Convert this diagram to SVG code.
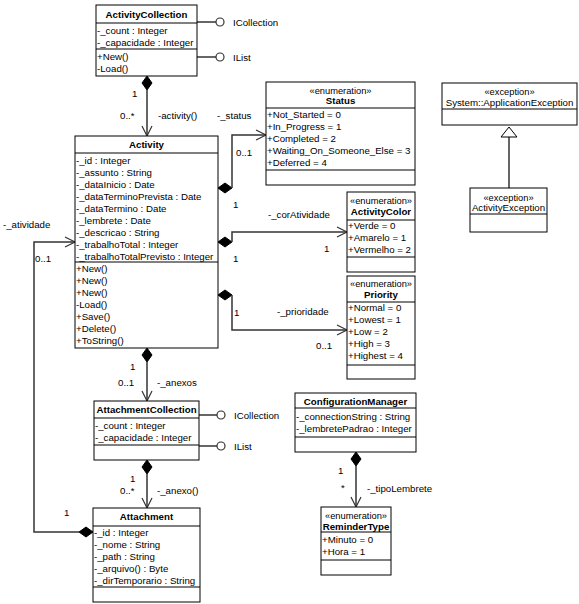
<svg xmlns="http://www.w3.org/2000/svg" width="579" height="604" viewBox="0 0 579 604">
<style>
text{font-family:"Liberation Sans",Arial,sans-serif;font-size:9.7px;fill:#000}
.t{font-weight:bold;text-anchor:middle}
.c{text-anchor:middle}
.s{font-size:9.3px;text-anchor:middle}
.box{fill:#fff;stroke:#000;stroke-width:1}
.sep{stroke:#000;stroke-width:1}
.ln{fill:none;stroke:#333;stroke-width:1.5}
.dia{fill:#000;stroke:#000;stroke-width:1}
.arr{fill:none;stroke:#333;stroke-width:1.2}
.lol{fill:#fff;stroke:#333;stroke-width:1.2}
</style>
<rect width="579" height="604" fill="#fff"/>

<g id="connectors">
  <!-- ActivityCollection -> Activity -->
  <polygon class="dia" points="147,76 152,83 147,90 142,83"/>
  <line class="ln" x1="147" y1="90" x2="147" y2="136"/>
  <polyline class="arr" points="142,126 147,136 152,126"/>
  <text x="132" y="97">1</text>
  <text x="120" y="119">0..*</text>
  <text x="158" y="119">-activity()</text>
  <!-- Activity -> Status -->
  <polygon class="dia" points="218,188 225,183 232,188 225,193"/>
  <polyline class="ln" points="232,188 232,135 266,135"/>
  <polyline class="arr" points="256,130 266,135 256,140"/>
  <text x="217" y="119">-_status</text>
  <text x="236" y="155.5">0..1</text>
  <text x="233" y="208">1</text>
  <!-- Activity -> ActivityColor -->
  <polygon class="dia" points="218,242 225,237 232,242 225,247"/>
  <polyline class="ln" points="232,242 232,232 347,232"/>
  <polyline class="arr" points="337,227 347,232 337,237"/>
  <text x="268" y="217.5">-_corAtividade</text>
  <text x="324" y="251.5">1</text>
  <text x="233" y="262">1</text>
  <!-- Activity -> Priority -->
  <polygon class="dia" points="218,295 225,290 232,295 225,300"/>
  <polyline class="ln" points="232,295 232,330 347,330"/>
  <polyline class="arr" points="337,325 347,330 337,335"/>
  <text x="234" y="315.5">1</text>
  <text x="277" y="314.5">-_prioridade</text>
  <text x="316" y="348.5">0..1</text>
  <!-- Activity -> AttachmentCollection -->
  <polygon class="dia" points="147,348 152,355 147,362 142,355"/>
  <line class="ln" x1="147" y1="362" x2="147" y2="401"/>
  <polyline class="arr" points="142,391 147,401 152,391"/>
  <text x="130" y="369.5">1</text>
  <text x="118" y="385.5">0..1</text>
  <text x="157" y="385.5">-_anexos</text>
  <!-- AttachmentCollection -> Attachment -->
  <polygon class="dia" points="147,460 152,467 147,474 142,467"/>
  <line class="ln" x1="147" y1="474" x2="147" y2="508"/>
  <polyline class="arr" points="142,498 147,508 152,498"/>
  <text x="130" y="481.5">1</text>
  <text x="120" y="494">0..*</text>
  <text x="157" y="494">-_anexo()</text>
  <!-- Attachment -> Activity -->
  <polygon class="dia" points="93,532 86,527 79,532 86,537"/>
  <polyline class="ln" points="79,532 34,532 34,242 75,242"/>
  <polyline class="arr" points="65,237 75,242 65,247"/>
  <text x="3" y="227.5">-_atividade</text>
  <text x="35" y="261.5">0..1</text>
  <text x="64" y="516">1</text>
  <!-- ConfigurationManager -> ReminderType -->
  <polygon class="dia" points="356,452 361,459 356,466 351,459"/>
  <line class="ln" x1="356" y1="466" x2="356" y2="507"/>
  <polyline class="arr" points="351,497 356,507 361,497"/>
  <text x="338" y="473.5">1</text>
  <text x="341" y="491">*</text>
  <text x="367" y="491.5">-_tipoLembrete</text>
  <!-- Generalization -->
  <line class="ln" x1="509" y1="137" x2="509" y2="188"/>
  <polygon fill="#fff" stroke="#000" stroke-width="1" points="509,127 517,137 501,137"/>
  <!-- Lollipops -->
  <line class="ln" x1="197" y1="22" x2="216" y2="22"/>
  <circle class="lol" cx="220" cy="22" r="4"/>
  <text x="233" y="25.5">ICollection</text>
  <line class="ln" x1="197" y1="57" x2="216" y2="57"/>
  <circle class="lol" cx="220" cy="57" r="4"/>
  <text x="233" y="60.5">IList</text>
  <line class="ln" x1="199" y1="415" x2="217" y2="415"/>
  <circle class="lol" cx="221" cy="415" r="4"/>
  <text x="234" y="418.5">ICollection</text>
  <line class="ln" x1="199" y1="446" x2="217" y2="446"/>
  <circle class="lol" cx="221" cy="446" r="4"/>
  <text x="234" y="449.5">IList</text>
</g>

<g id="ActivityCollection">
  <rect class="box" x="96" y="5" width="101" height="71"/>
  <text class="t" x="146.5" y="18">ActivityCollection</text>
  <line class="sep" x1="96" y1="23" x2="197" y2="23"/>
  <text x="97" y="34">-_count : Integer</text>
  <text x="97" y="46">-_capacidade : Integer</text>
  <line class="sep" x1="96" y1="49" x2="197" y2="49"/>
  <text x="97" y="60">+New()</text>
  <text x="97" y="72">-Load()</text>
</g>

<g id="Activity">
  <rect class="box" x="75" y="136" width="143" height="212"/>
  <text class="t" x="146.5" y="148">Activity</text>
  <line class="sep" x1="75" y1="153" x2="218" y2="153"/>
  <text x="76" y="163.5">-_id : Integer</text>
  <text x="76" y="175.5">-_assunto : String</text>
  <text x="76" y="187.5">-_dataInicio : Date</text>
  <text x="76" y="199.5">-_dataTerminoPrevista : Date</text>
  <text x="76" y="211.5">-_dataTermino : Date</text>
  <text x="76" y="223.5">-_lembrete : Date</text>
  <text x="76" y="235.5">-_descricao : String</text>
  <text x="76" y="247.5">-_trabalhoTotal : Integer</text>
  <text x="76" y="259.5">-_trabalhoTotalPrevisto : Integer</text>
  <line class="sep" x1="75" y1="262" x2="218" y2="262"/>
  <text x="76" y="271.5">+New()</text>
  <text x="76" y="283.5">+New()</text>
  <text x="76" y="295.5">+New()</text>
  <text x="76" y="307.5">-Load()</text>
  <text x="76" y="319.5">+Save()</text>
  <text x="76" y="331.5">+Delete()</text>
  <text x="76" y="343.5">+ToString()</text>
</g>

<g id="Status">
  <rect class="box" x="266" y="82" width="149" height="103"/>
  <text class="s" x="340.5" y="93.5">«enumeration»</text>
  <text class="t" x="340.5" y="104">Status</text>
  <line class="sep" x1="266" y1="108" x2="415" y2="108"/>
  <text x="267" y="117.5">+Not_Started = 0</text>
  <text x="267" y="129.5">+In_Progress = 1</text>
  <text x="267" y="141.5">+Completed = 2</text>
  <text x="267" y="153.5">+Waiting_On_Someone_Else = 3</text>
  <text x="267" y="165.5">+Deferred = 4</text>
  <line class="sep" x1="266" y1="170" x2="415" y2="170"/>
</g>

<g id="ActivityColor">
  <rect class="box" x="347" y="192" width="68" height="80"/>
  <text class="s" x="381" y="203.5">«enumeration»</text>
  <text class="t" x="381" y="214.5">ActivityColor</text>
  <line class="sep" x1="347" y1="220" x2="415" y2="220"/>
  <text x="348" y="229">+Verde = 0</text>
  <text x="348" y="241">+Amarelo = 1</text>
  <text x="348" y="253">+Vermelho = 2</text>
  <line class="sep" x1="347" y1="257" x2="415" y2="257"/>
</g>

<g id="Priority">
  <rect class="box" x="347" y="276" width="68" height="103"/>
  <text class="s" x="381" y="286.5">«enumeration»</text>
  <text class="t" x="381" y="297.5">Priority</text>
  <line class="sep" x1="347" y1="302" x2="415" y2="302"/>
  <text x="348" y="311">+Normal = 0</text>
  <text x="348" y="323">+Lowest = 1</text>
  <text x="348" y="335">+Low = 2</text>
  <text x="348" y="347">+High = 3</text>
  <text x="348" y="359">+Highest = 4</text>
  <line class="sep" x1="347" y1="365" x2="415" y2="365"/>
</g>

<g id="ApplicationException">
  <rect class="box" x="442" y="83" width="135" height="42"/>
  <text class="s" x="509.5" y="94.5">«exception»</text>
  <text class="c" x="509.5" y="105.5">System::ApplicationException</text>
  <line class="sep" x1="442" y1="109" x2="577" y2="109"/>
</g>

<g id="ActivityException">
  <rect class="box" x="470" y="188" width="77" height="44"/>
  <text class="s" x="508.5" y="200.5">«exception»</text>
  <text class="c" x="508.5" y="210.5">ActivityException</text>
  <line class="sep" x1="470" y1="214" x2="547" y2="214"/>
</g>

<g id="AttachmentCollection">
  <rect class="box" x="94" y="401" width="105" height="59"/>
  <text class="t" x="146.5" y="413">AttachmentCollection</text>
  <line class="sep" x1="94" y1="418" x2="199" y2="418"/>
  <text x="95" y="428.5">-_count : Integer</text>
  <text x="95" y="440.5">-_capacidade : Integer</text>
  <line class="sep" x1="94" y1="445" x2="199" y2="445"/>
</g>

<g id="Attachment">
  <rect class="box" x="93" y="508" width="107" height="94"/>
  <text class="t" x="146.5" y="520">Attachment</text>
  <line class="sep" x1="93" y1="526" x2="200" y2="526"/>
  <text x="94" y="535.5">-_id : Integer</text>
  <text x="94" y="547.5">-_nome : String</text>
  <text x="94" y="559.5">-_path : String</text>
  <text x="94" y="571.5">-_arquivo() : Byte</text>
  <text x="94" y="583.5">-_dirTemporario : String</text>
  <line class="sep" x1="93" y1="587" x2="200" y2="587"/>
</g>

<g id="ConfigurationManager">
  <rect class="box" x="295" y="393" width="121" height="59"/>
  <text class="t" x="355.5" y="405">ConfigurationManager</text>
  <line class="sep" x1="295" y1="408" x2="416" y2="408"/>
  <text x="296" y="419.5">-_connectionString : String</text>
  <text x="296" y="431.5">-_lembretePadrao : Integer</text>
  <line class="sep" x1="295" y1="437" x2="416" y2="437"/>
</g>

<g id="ReminderType">
  <rect class="box" x="321" y="507" width="70" height="68"/>
  <text class="s" x="356" y="518.5">«enumeration»</text>
  <text class="t" x="356" y="530">ReminderType</text>
  <line class="sep" x1="321" y1="532" x2="391" y2="532"/>
  <text x="322" y="543">+Minuto = 0</text>
  <text x="322" y="555">+Hora = 1</text>
  <line class="sep" x1="321" y1="560" x2="391" y2="560"/>
</g>
</svg>
